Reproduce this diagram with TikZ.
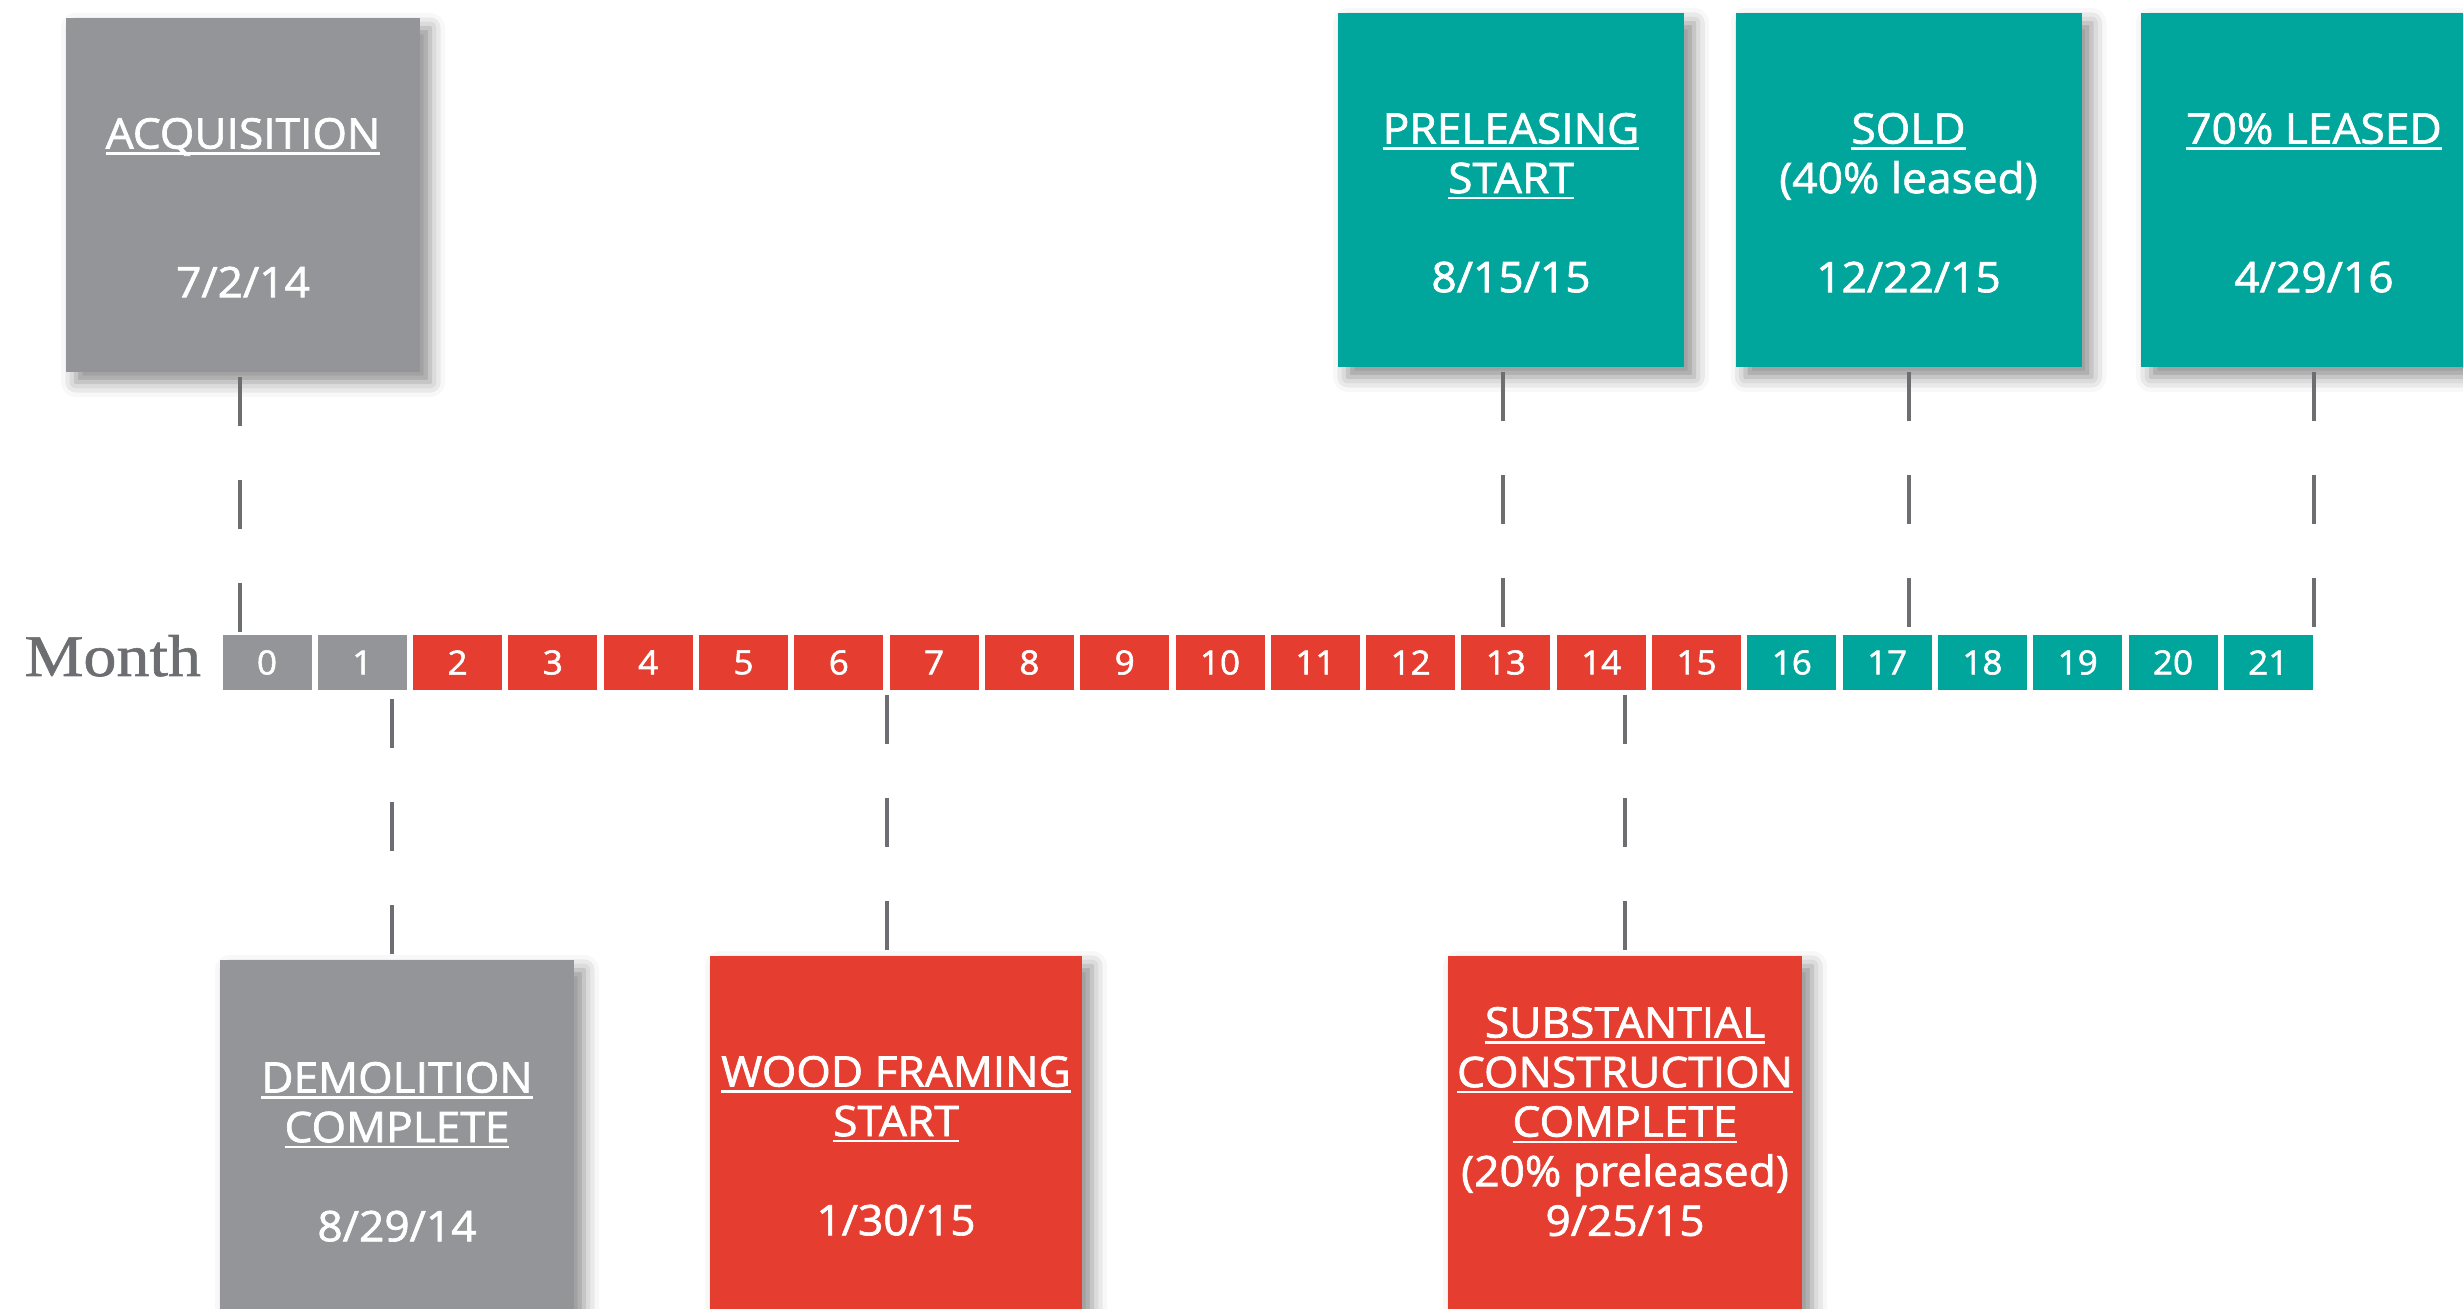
\documentclass[tikz,border=0pt]{standalone}
\usepackage{fontspec}
\setsansfont{Open Sans}[FakeStretch=1.05,FakeBold=1.6]
\newfontfamily\monthfont{Liberation Serif}[FakeStretch=1.12,FakeBold=1]
\usepackage{tikz}
\usetikzlibrary{shadows.blur}

\definecolor{boxgray}{HTML}{939598}
\definecolor{boxred}{HTML}{E53E30}
\definecolor{boxteal}{HTML}{00A69C}
\definecolor{linegray}{HTML}{6D6E71}

\newcommand\undl[1]{\setbox0=\hbox{#1}\rlap{\rule[-1.8pt]{\wd0}{0.7pt}}\box0}

\begin{document}
\begin{tikzpicture}[every node/.style={inner sep=0pt, outer sep=0pt},
  cell/.style={minimum width=0.89cm, minimum height=0.55cm, text=white, font=\sffamily\fontsize{9.5}{9.5}\selectfont},
  mbox/.style={minimum height=3.54cm, blur shadow={shadow xshift=0.1cm, shadow yshift=-0.1cm, shadow blur radius=0.15cm, shadow opacity=45}},
  mtext/.style={anchor=north, align=center, text=white, font=\sffamily\fontsize{12}{14.1}\selectfont},
  dashline/.style={draw=linegray, line width=0.04cm, dash pattern=on 0.49cm off 0.54cm, shorten <=0.05cm}]
\useasboundingbox (0,0) rectangle (24.63,-13.09);

% month bar
\node[anchor=base east, text=linegray, font=\monthfont\fontsize{16.8}{16.8}\selectfont] (monthlbl) at (2.01,-6.76) {Month};
\node[cell, fill=boxgray] (m0) at (2.670,-6.625) {0};
\node[cell, fill=boxgray] (m1) at (3.623,-6.625) {1};
\node[cell, fill=boxred] (m2) at (4.576,-6.625) {2};
\node[cell, fill=boxred] (m3) at (5.529,-6.625) {3};
\node[cell, fill=boxred] (m4) at (6.482,-6.625) {4};
\node[cell, fill=boxred] (m5) at (7.435,-6.625) {5};
\node[cell, fill=boxred] (m6) at (8.388,-6.625) {6};
\node[cell, fill=boxred] (m7) at (9.341,-6.625) {7};
\node[cell, fill=boxred] (m8) at (10.294,-6.625) {8};
\node[cell, fill=boxred] (m9) at (11.247,-6.625) {9};
\node[cell, fill=boxred] (m10) at (12.200,-6.625) {10};
\node[cell, fill=boxred] (m11) at (13.153,-6.625) {11};
\node[cell, fill=boxred] (m12) at (14.106,-6.625) {12};
\node[cell, fill=boxred] (m13) at (15.059,-6.625) {13};
\node[cell, fill=boxred] (m14) at (16.012,-6.625) {14};
\node[cell, fill=boxred] (m15) at (16.965,-6.625) {15};
\node[cell, fill=boxteal] (m16) at (17.918,-6.625) {16};
\node[cell, fill=boxteal] (m17) at (18.871,-6.625) {17};
\node[cell, fill=boxteal] (m18) at (19.824,-6.625) {18};
\node[cell, fill=boxteal] (m19) at (20.777,-6.625) {19};
\node[cell, fill=boxteal] (m20) at (21.730,-6.625) {20};
\node[cell, fill=boxteal] (m21) at (22.683,-6.625) {21};

% milestones above
\node[mbox, fill=boxgray, minimum width=3.54cm] (acq) at (2.43,-1.95) {};
\node[mtext] (acqtxt) at ([yshift=-1.00cm]acq.north) {\undl{ACQUISITION}\\[28.2pt]7/2/14};
\node[mbox, fill=boxteal, minimum width=3.46cm] (prel) at (15.11,-1.90) {};
\node[mtext] (preltxt) at ([yshift=-1.00cm]prel.north) {\undl{PRELEASING}\\\undl{START}\\[14.1pt]8/15/15};
\node[mbox, fill=boxteal, minimum width=3.46cm] (sold) at (19.085,-1.90) {};
\node[mtext] (soldtxt) at ([yshift=-1.00cm]sold.north) {\undl{SOLD}\\(40\% leased)\\[14.1pt]12/22/15};
\node[mbox, fill=boxteal, minimum width=3.46cm] (lsd) at (23.14,-1.90) {};
\node[mtext] (lsdtxt) at ([yshift=-1.00cm]lsd.north) {\undl{70\% LEASED}\\[28.2pt]4/29/16};

% milestones below
\node[mbox, fill=boxgray, minimum width=3.54cm, anchor=north] (demo) at (3.97,-9.60) {};
\node[mtext] (demotxt) at ([yshift=-1.02cm]demo.north) {\undl{DEMOLITION}\\\undl{COMPLETE}\\[14.1pt]8/29/14};
\node[mbox, fill=boxred, minimum width=3.72cm, anchor=north] (wood) at (8.96,-9.56) {};
\node[mtext] (woodtxt) at ([yshift=-1.00cm]wood.north) {\undl{WOOD FRAMING}\\\undl{START}\\[14.1pt]1/30/15};
\node[mbox, fill=boxred, minimum width=3.54cm, anchor=north] (subst) at (16.25,-9.56) {};
\node[mtext] (substtxt) at ([yshift=-0.51cm]subst.north) {\undl{SUBSTANTIAL}\\\undl{CONSTRUCTION}\\\undl{COMPLETE}\\(20\% preleased)\\9/25/15};

% connectors
\draw[dashline] ([xshift=-0.03cm]acq.south) -- ([xshift=-0.03cm]acq.south |- m0.north);
\draw[dashline] ([xshift=-0.08cm]prel.south) -- ([xshift=-0.08cm]prel.south |- m13.north);
\draw[dashline] (sold.south) -- (sold.south |- m17.north);
\draw[dashline] (lsd.south) -- (lsd.south |- m21.north);
\draw[dashline, shorten <=0.06cm] ([xshift=-0.05cm]demo.north) -- ([xshift=-0.05cm]demo.north |- m1.south);
\draw[dashline, shorten <=0.06cm] ([xshift=-0.09cm]wood.north) -- ([xshift=-0.09cm]wood.north |- m6.south);
\draw[dashline, shorten <=0.06cm] (subst.north) -- (subst.north |- m14.south);
\end{tikzpicture}
\end{document}
